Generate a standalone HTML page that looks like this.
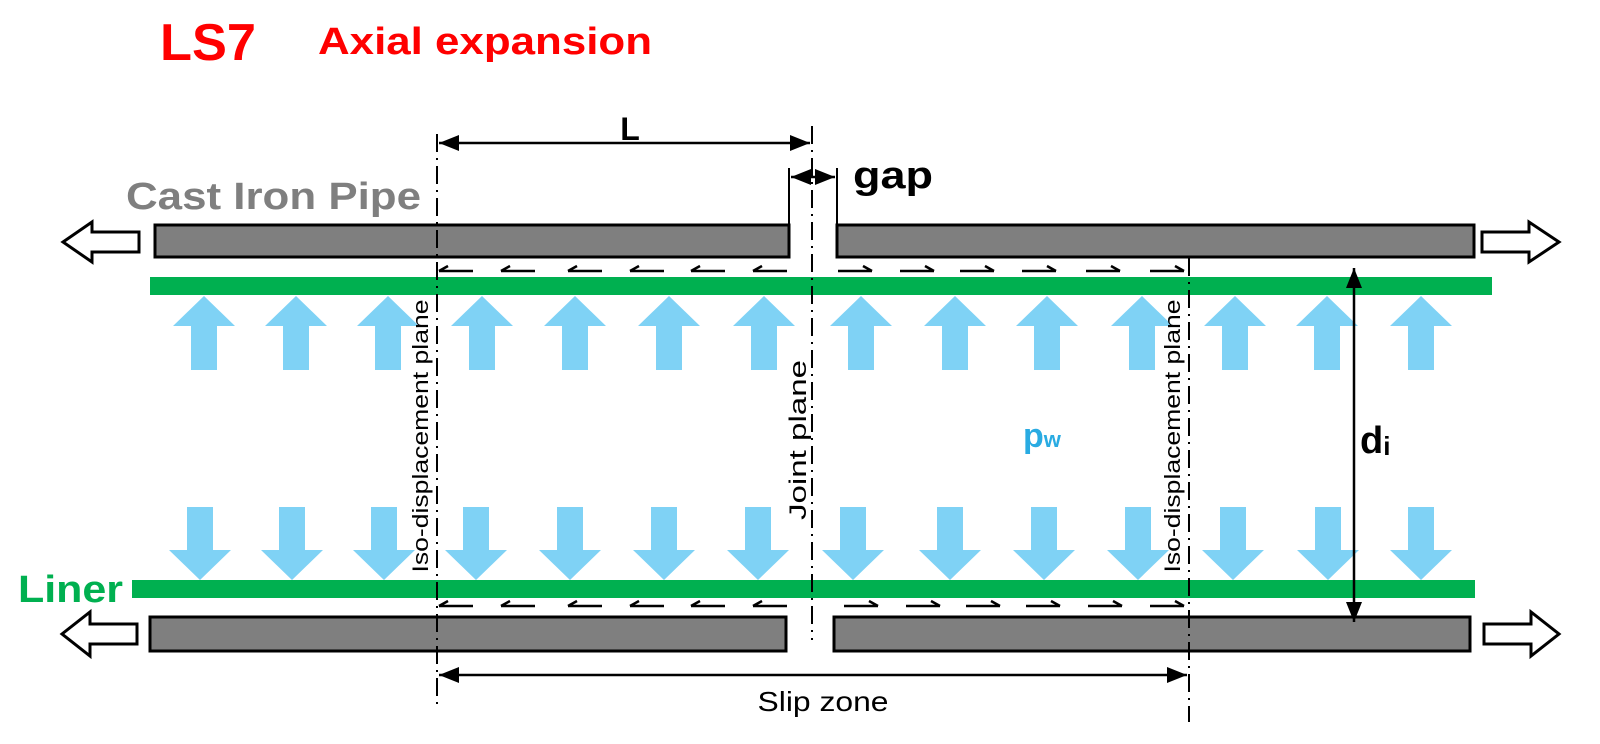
<!DOCTYPE html>
<html><head><meta charset="utf-8"><style>body{margin:0;background:#fff}svg{display:block}</style></head><body>
<svg width="1600" height="744" viewBox="0 0 1600 744" xmlns="http://www.w3.org/2000/svg" font-family="Liberation Sans, sans-serif">
<defs>
<marker id="ah" viewBox="0 0 10 10" refX="10" refY="5" markerWidth="8" markerHeight="8" orient="auto-start-reverse"><path d="M0,1 L10,5 L0,9 z" fill="#000"/></marker>
<g id="up"><path d="M-13,370 V326 H-31 L0,296 L31,326 H13 V370 Z" fill="#7fd2f5"/></g>
<g id="dn"><path d="M-13,507 V550 H-31 L0,580 L31,550 H13 V507 Z" fill="#7fd2f5"/></g>
<g id="sl"><path d="M0,0 H34 M0,0 L9,-5" stroke="#000" stroke-width="2.5" fill="none"/></g>
<g id="sr"><path d="M0,0 H34 M34,0 L25,-5" stroke="#000" stroke-width="2.5" fill="none"/></g>
</defs>
<text x="160" y="60" fill="#f00" font-size="52" font-weight="bold" textLength="96" lengthAdjust="spacingAndGlyphs">LS7</text>
<text x="318" y="54" fill="#f00" font-size="38" font-weight="bold" textLength="334" lengthAdjust="spacingAndGlyphs">Axial expansion</text>
<text x="126" y="209" fill="#7f7f7f" font-size="38" font-weight="bold" textLength="295" lengthAdjust="spacingAndGlyphs">Cast Iron Pipe</text>
<text x="18" y="602" fill="#00b050" font-size="38" font-weight="bold" textLength="105" lengthAdjust="spacingAndGlyphs">Liner</text>

<rect x="155" y="225" width="634" height="32" fill="#7f7f7f" stroke="#000" stroke-width="3"/>
<rect x="837" y="225" width="637" height="32" fill="#7f7f7f" stroke="#000" stroke-width="3"/>
<rect x="150" y="617" width="636" height="34" fill="#7f7f7f" stroke="#000" stroke-width="3"/>
<rect x="834" y="617" width="636" height="34" fill="#7f7f7f" stroke="#000" stroke-width="3"/>
<path d="M139,232 H92 V222 L63,242 L92,262 V252 H139 Z" fill="#fff" stroke="#000" stroke-width="3"/>
<path d="M1482,232 H1529 V222 L1559,242 L1529,262 V252 H1482 Z" fill="#fff" stroke="#000" stroke-width="3"/>
<path d="M137,624 H90 V612 L62,634 L90,656 V644 H137 Z" fill="#fff" stroke="#000" stroke-width="3"/>
<path d="M1484,624 H1531 V612 L1559,634 L1531,656 V644 H1484 Z" fill="#fff" stroke="#000" stroke-width="3"/>
<rect x="150" y="277" width="1342" height="18" fill="#00b050"/>
<rect x="132" y="580" width="1343" height="18" fill="#00b050"/>
<use href="#up" x="204"/><use href="#up" x="296"/><use href="#up" x="388"/><use href="#up" x="482"/><use href="#up" x="575"/><use href="#up" x="669"/><use href="#up" x="764"/><use href="#up" x="861"/><use href="#up" x="955"/><use href="#up" x="1047"/><use href="#up" x="1142"/><use href="#up" x="1235"/><use href="#up" x="1327"/><use href="#up" x="1421"/>
<use href="#dn" x="200"/><use href="#dn" x="292"/><use href="#dn" x="384"/><use href="#dn" x="476"/><use href="#dn" x="570"/><use href="#dn" x="664"/><use href="#dn" x="758"/><use href="#dn" x="853"/><use href="#dn" x="950"/><use href="#dn" x="1044"/><use href="#dn" x="1138"/><use href="#dn" x="1233"/><use href="#dn" x="1328"/><use href="#dn" x="1421"/>
<g transform="translate(0,271)"><use href="#sl" x="439"/><use href="#sl" x="501"/><use href="#sl" x="568"/><use href="#sl" x="630"/><use href="#sl" x="691"/><use href="#sl" x="753"/>
<use href="#sr" x="838"/><use href="#sr" x="900"/><use href="#sr" x="960"/><use href="#sr" x="1022"/><use href="#sr" x="1086"/><use href="#sr" x="1150"/></g>
<g transform="translate(0,606)"><use href="#sl" x="439"/><use href="#sl" x="501"/><use href="#sl" x="568"/><use href="#sl" x="630"/><use href="#sl" x="691"/><use href="#sl" x="753"/>
<use href="#sr" x="844"/><use href="#sr" x="906"/><use href="#sr" x="966"/><use href="#sr" x="1026"/><use href="#sr" x="1088"/><use href="#sr" x="1150"/></g>
<g stroke="#000" stroke-width="2" stroke-dasharray="18,6,2,6" fill="none">
<line x1="437" y1="134" x2="437" y2="708"/>
<line x1="812" y1="126" x2="812" y2="640"/>
<line x1="1189" y1="258" x2="1189" y2="722"/>
</g>
<line x1="439" y1="143" x2="810" y2="143" stroke="#000" stroke-width="2.5" marker-start="url(#ah)" marker-end="url(#ah)"/>
<text x="630" y="140" font-size="32" font-weight="bold" text-anchor="middle">L</text>
<line x1="789" y1="168" x2="789" y2="225" stroke="#000" stroke-width="2"/>
<line x1="837" y1="168" x2="837" y2="225" stroke="#000" stroke-width="2"/>
<line x1="791" y1="177" x2="835" y2="177" stroke="#000" stroke-width="2.5" marker-start="url(#ah)" marker-end="url(#ah)"/>
<text x="853" y="188" font-size="38" font-weight="bold" textLength="80" lengthAdjust="spacingAndGlyphs">gap</text>
<line x1="1354" y1="268" x2="1354" y2="622" stroke="#000" stroke-width="2.5" marker-start="url(#ah)" marker-end="url(#ah)"/>
<text x="1360" y="453" font-size="38" font-weight="bold">d<tspan font-size="26" dy="2">i</tspan></text>
<text x="1023" y="447" fill="#29abe2" font-size="34" font-weight="bold">p<tspan font-size="22">w</tspan></text>
<line x1="439" y1="675" x2="1187" y2="675" stroke="#000" stroke-width="2.5" marker-start="url(#ah)" marker-end="url(#ah)"/>
<text x="823" y="711" font-size="28" text-anchor="middle" textLength="131" lengthAdjust="spacingAndGlyphs">Slip zone</text>
<text transform="translate(428,436) rotate(-90)" font-size="22" text-anchor="middle" textLength="273" lengthAdjust="spacingAndGlyphs">Iso-displacement plane</text>
<text transform="translate(806,440) rotate(-90)" font-size="24" text-anchor="middle" textLength="160" lengthAdjust="spacingAndGlyphs">Joint plane</text>
<text transform="translate(1180,436) rotate(-90)" font-size="22" text-anchor="middle" textLength="273" lengthAdjust="spacingAndGlyphs">Iso-displacement plane</text>
</svg>
</body></html>
